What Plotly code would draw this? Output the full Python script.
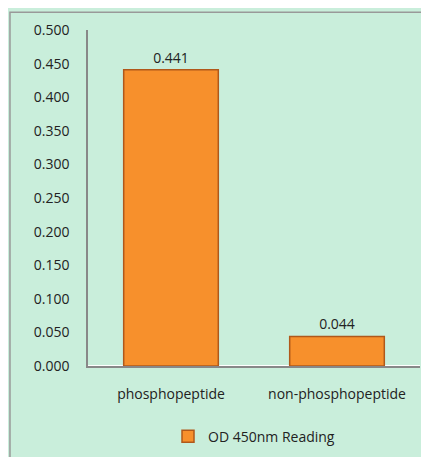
import plotly.graph_objects as go

categories = ["phosphopeptide", "non-phosphopeptide"]
values = [0.441, 0.044]
series_name = "OD 450nm Reading"

fig = go.Figure(go.Bar(
    x=categories, y=values, name=series_name,
    text=["%.3f" % v for v in values], textposition="outside",
    textfont=dict(size=14, color="#222"),
    marker=dict(color="#f7902c", line=dict(color="#b0581a", width=1.5)),
    width=0.57, cliponaxis=False,
))

fig.update_layout(
    width=429, height=457,
    margin=dict(l=80, r=17, t=20, b=97),
    paper_bgcolor="#c9eedb", plot_bgcolor="#c9eedb",
    font=dict(family="Open Sans", size=14, color="#222"),
    showlegend=True,
    legend=dict(orientation="h", x=0.5, xanchor="center", y=-0.21, yanchor="middle",
                font=dict(size=14)),
    xaxis=dict(showline=True, linecolor="#888", linewidth=1.5, ticks="",
               tickfont=dict(size=14), ticklabelstandoff=14),
    yaxis=dict(range=[0, 0.5], dtick=0.05, tickformat=".3f", showgrid=False,
               showline=True, linecolor="#888", linewidth=1.5, ticks="",
               tickfont=dict(size=14), ticklabelstandoff=14),
    shapes=[dict(type="rect", xref="paper", yref="paper", x0=-0.235, x1=1.045,
                 y0=-0.279, y1=1.053, line=dict(color="#999", width=1.5))],
)

fig.write_html("out.html")
